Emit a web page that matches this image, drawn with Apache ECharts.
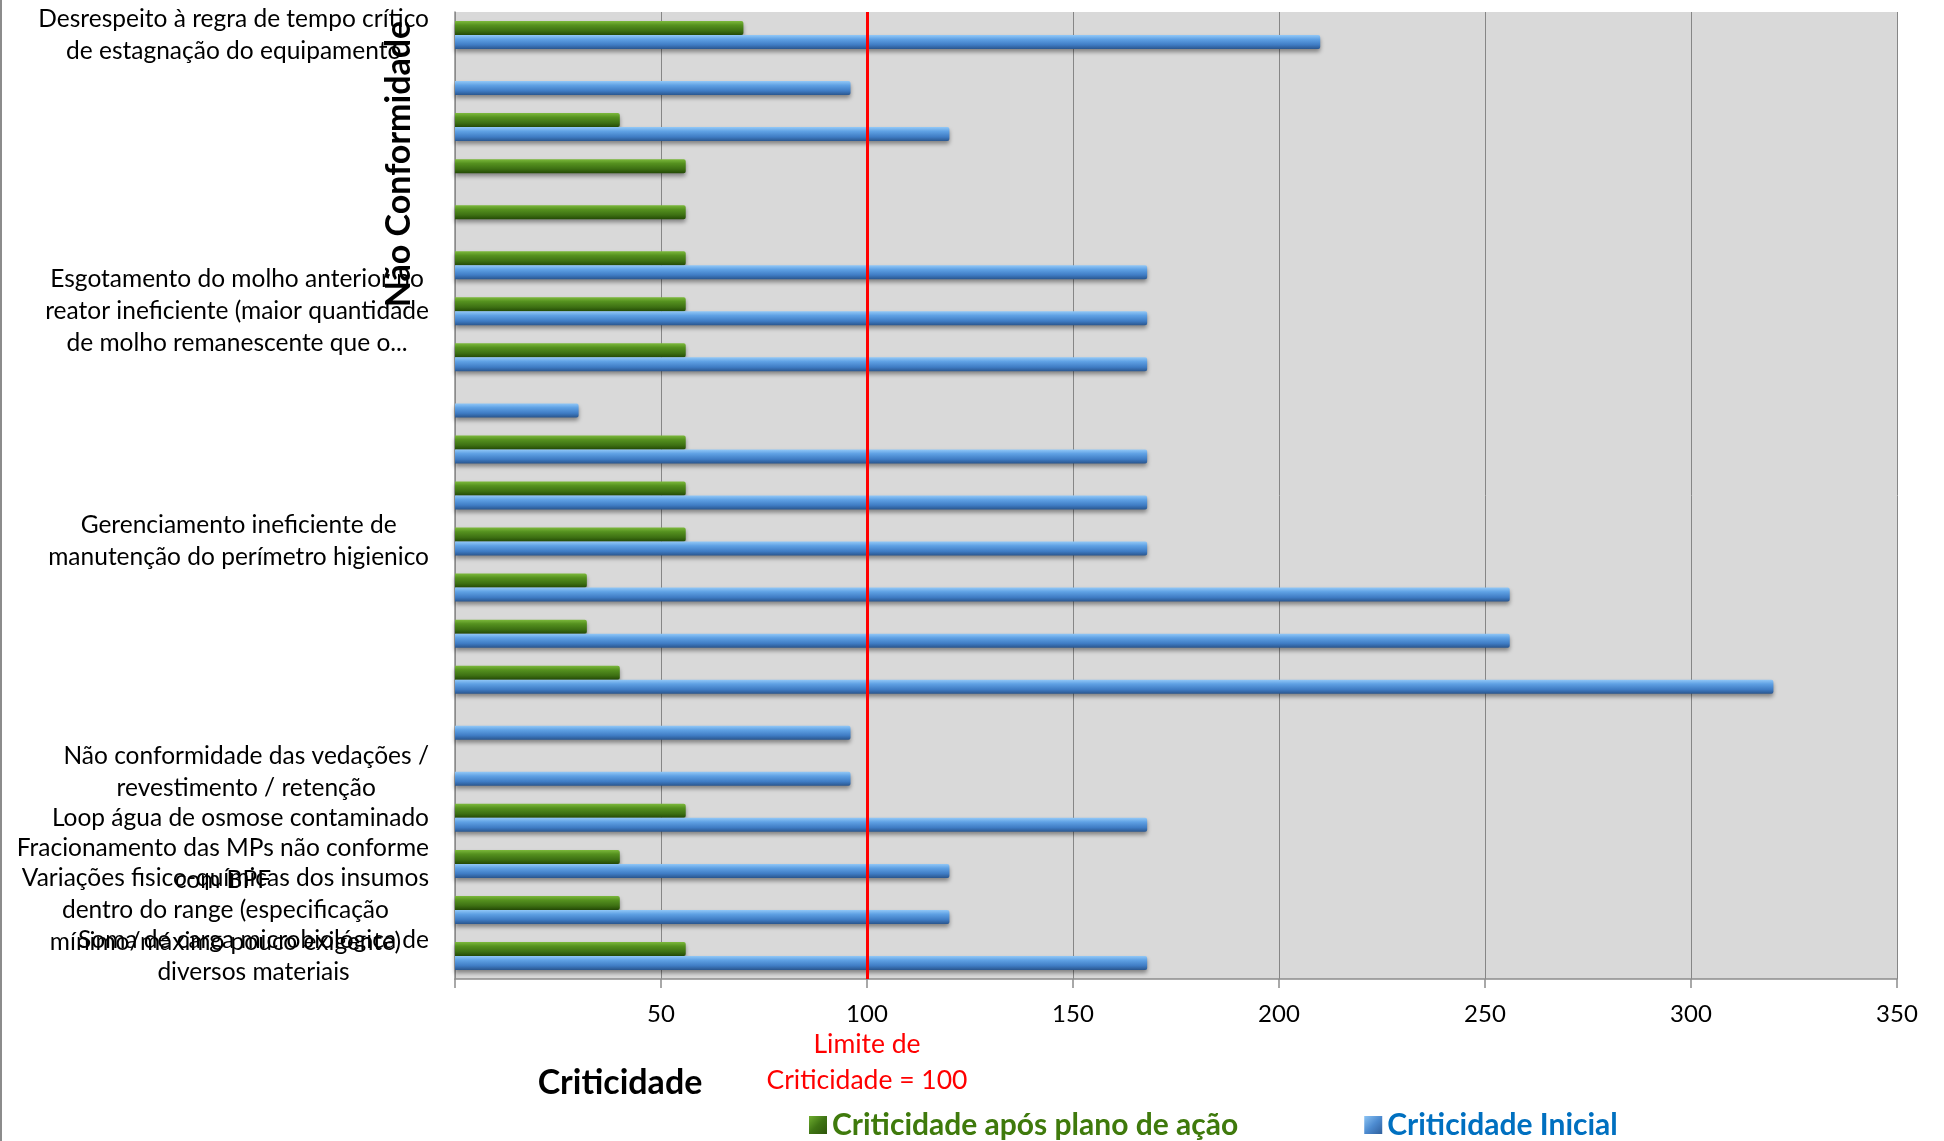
<!DOCTYPE html>
<html>
<head>
<meta charset="utf-8">
<script src="https://cdn.jsdelivr.net/npm/echarts@6/dist/echarts.min.js"></script>
<style>
  html, body { margin: 0; padding: 0; background: #ffffff; }
  #chart { width: 1944px; height: 1141px; }
</style>
</head>
<body>
<div id="chart"></div>
<script>
// Non-conformities, listed top to bottom (only some carry a visible name)
const categories = [
  'Desrespeito à regra de tempo crítico\nde estagnação do equipamento',
  '',
  '',
  '',
  '',
  '',
  'Esgotamento do molho anterior no\nreator ineficiente (maior quantidade\nde molho remanescente que o...',
  '',
  '',
  '',
  '',
  'Gerenciamento ineficiente de\nmanutenção do perímetro higienico',
  '',
  '',
  '',
  '',
  'Não conformidade das vedações /\nrevestimento / retenção',
  'Loop água de osmose contaminado',
  'Fracionamento das MPs não conforme\ncom BPF',
  'Variações fisico-químicas dos insumos\ndentro do range (especificação\nmínimo/máximo pouco exigente)',
  'Soma de carga microbiológica de\ndiversos materiais'
];

// Criticality after the action plan
const afterPlan = [70, null, 40, 56, 56, 56, 56, 56, null, 56, 56, 56, 32, 32, 40, null, null, 56, 40, 40, 56];

// Initial criticality
const initial = [210, 96, 120, null, null, 168, 168, 168, 30, 168, 168, 168, 256, 256, 320, 96, 96, 168, 120, 120, 168];

// Value axis
const axisMin = 0;
const axisMax = 350;
const axisStep = 50;

// Criticality limit
const limitValue = 100;
const limitText = 'Limite de\nCriticidade = 100';

const seriesNames = ['Criticidade após plano de ação', 'Criticidade Inicial'];

const FONT = 'Lato';

const greenFill = new echarts.graphic.LinearGradient(0, 0, 0, 1, [
  { offset: 0, color: '#7cb93c' },
  { offset: 0.3, color: '#55911f' },
  { offset: 0.7, color: '#3d7013' },
  { offset: 1, color: '#244a06' }
]);
const blueFill = new echarts.graphic.LinearGradient(0, 0, 0, 1, [
  { offset: 0, color: '#92c8f7' },
  { offset: 0.3, color: '#5fa1e4' },
  { offset: 0.7, color: '#3f7cc4' },
  { offset: 1, color: '#2a568e' }
]);
const greenIcon = new echarts.graphic.LinearGradient(0, 0, 1, 1, [
  { offset: 0, color: '#6fae30' },
  { offset: 0.5, color: '#3f7414' },
  { offset: 1, color: '#2e560b' }
]);
const blueIcon = new echarts.graphic.LinearGradient(0, 0, 1, 1, [
  { offset: 0, color: '#8cc4f4' },
  { offset: 0.5, color: '#4d8bd0' },
  { offset: 1, color: '#2f5f9c' }
]);

const barShadow = {
  shadowColor: 'rgba(0,0,0,0.4)',
  shadowBlur: 4,
  shadowOffsetY: 3
};

const chart = echarts.init(document.getElementById('chart'), null, { renderer: 'canvas' });

chart.setOption({
  animation: false,
  backgroundColor: '#ffffff',
  textStyle: { fontFamily: FONT },
  grid: { left: 455, right: 47, top: 12, bottom: 162, containLabel: false,
          show: true, backgroundColor: '#d9d9d9', borderWidth: 0 },
  xAxis: {
    type: 'value',
    min: axisMin,
    max: axisMax,
    interval: axisStep,
    axisLine: { show: true, lineStyle: { color: '#8c8c8c', width: 1.5 } },
    axisTick: { show: true, length: 9, lineStyle: { color: '#8c8c8c', width: 1.5 } },
    splitLine: { show: true, lineStyle: { color: '#868686', width: 1 } },
    axisLabel: {
      margin: 23,
      color: '#000000',
      fontFamily: FONT,
      fontSize: 24,
      formatter: v => (v === 0 ? '' : String(v))
    }
  },
  yAxis: {
    type: 'category',
    inverse: true,
    data: categories,
    axisLine: { show: true, lineStyle: { color: '#8c8c8c', width: 1.5 } },
    axisTick: { show: false },
    axisLabel: {
      interval: 0,
      margin: 26,
      color: '#000000',
      fontFamily: FONT,
      fontSize: 24.5,
      lineHeight: 32,
      align: 'right',
      formatter: v => v ? v.split('\n').map(l => '{c|' + l + '}').join('\n') : '',
      rich: { c: { align: 'center', fontFamily: FONT, fontSize: 24.5, lineHeight: 32, color: '#000000' } }
    }
  },
  legend: {
    left: 804,
    top: 1105,
    itemWidth: 18,
    itemHeight: 18,
    itemGap: 126,
    icon: 'rect',
    textStyle: { fontFamily: FONT, fontSize: 30, fontWeight: 'bold', padding: [0, 0, 0, 0] },
    data: [
      { name: seriesNames[0], itemStyle: { color: greenIcon }, textStyle: { color: '#3f7a0c' } },
      { name: seriesNames[1], itemStyle: { color: blueIcon }, textStyle: { color: '#0070c0' } }
    ]
  },
  series: [
    {
      name: seriesNames[0],
      type: 'bar',
      data: afterPlan,
      barWidth: 14,
      barGap: '0%',
      itemStyle: Object.assign({ color: greenFill, borderRadius: [0, 2, 2, 0] }, barShadow)
    },
    {
      name: seriesNames[1],
      type: 'bar',
      data: initial,
      barWidth: 14,
      barGap: '0%',
      itemStyle: Object.assign({ color: blueFill, borderRadius: [0, 2, 2, 0] }, barShadow),
      markLine: {
        silent: true,
        symbol: ['none', 'none'],
        lineStyle: { color: '#ff0000', width: 3, type: 'solid' },
        label: { show: false },
        data: [{ xAxis: limitValue }]
      }
    }
  ],
  graphic: [
    {
      type: 'line',
      shape: { x1: 1, y1: 0, x2: 1, y2: 1141 },
      style: { stroke: '#8c8c8c', lineWidth: 2 }
    },
    {
      type: 'text',
      x: 399,
      y: 164,
      rotation: Math.PI / 2,
      style: {
        text: 'Não Conformidade',
        fontFamily: FONT,
        fontSize: 34,
        fontWeight: 'bold',
        fill: '#000000',
        align: 'center',
        verticalAlign: 'middle'
      }
    },
    {
      type: 'text',
      x: 620,
      y: 1083,
      style: {
        text: 'Criticidade',
        fontFamily: FONT,
        fontSize: 34,
        fontWeight: 'bold',
        fill: '#000000',
        align: 'center',
        verticalAlign: 'middle'
      }
    }
  ]
});

// Caption of the criticality limit, centred under its line
const limitX = chart.convertToPixel({ xAxisIndex: 0 }, limitValue);
chart.setOption({
  graphic: [
    {
      id: 'limit-caption',
      type: 'text',
      x: limitX,
      y: 1062,
      style: {
        text: limitText,
        fontFamily: FONT,
        fontSize: 26.5,
        lineHeight: 36,
        fill: '#ff0000',
        align: 'center',
        verticalAlign: 'middle'
      }
    }
  ]
});
</script>
</body>
</html>
